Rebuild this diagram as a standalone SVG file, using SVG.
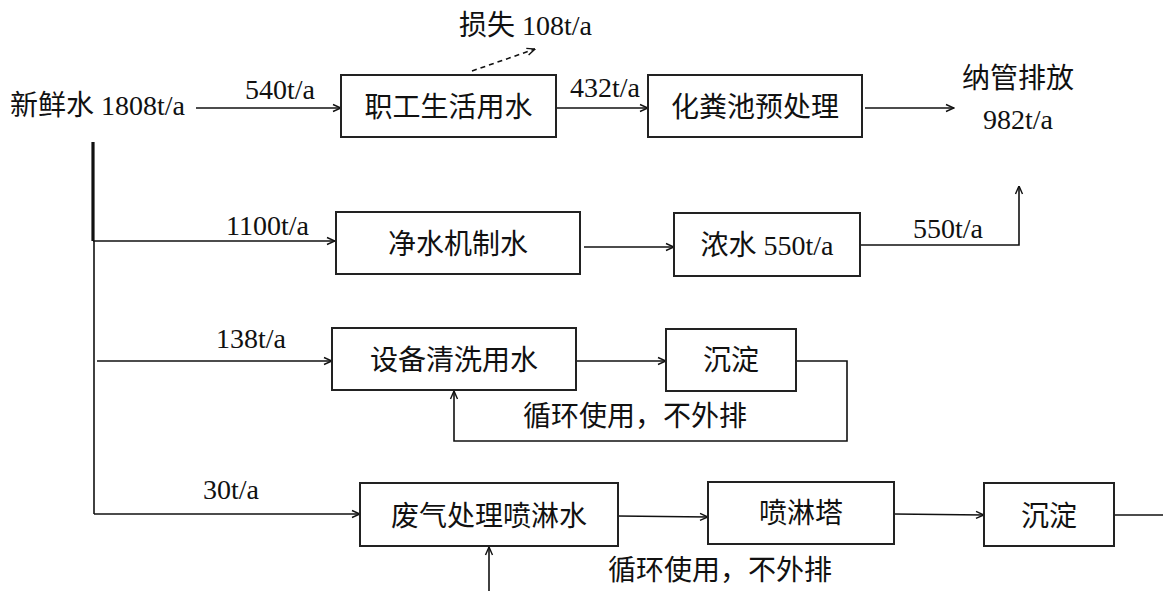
<svg xmlns="http://www.w3.org/2000/svg" width="1163" height="591" viewBox="0 0 1163 591">
<style>
text{font-family:"Liberation Serif","Noto Sans CJK SC",serif;font-size:28px;fill:#111}
.c{text-anchor:middle}
.box{fill:#fff;stroke:#222;stroke-width:2}
.ln{fill:none;stroke:#111;stroke-width:1.6}
.ar{marker-end:url(#ah)}
</style>
<defs>
<marker id="ah" markerUnits="userSpaceOnUse" markerWidth="10" markerHeight="10" viewBox="0 0 10 10" refX="9.5" refY="5" orient="auto">
<path d="M1.5,1.5 L9.5,5 L1.5,8.5" fill="none" stroke="#111" stroke-width="1.4"/>
</marker>
</defs>
<rect width="1163" height="591" fill="#fff"/>
<g id="connectors">
<line class="ln ar" x1="196" y1="108" x2="341" y2="108"/>
<line class="ln ar" x1="472" y1="71" x2="535" y2="49" stroke-dasharray="5,4"/>
<line class="ln ar" x1="556" y1="108" x2="648" y2="108"/>
<line class="ln ar" x1="865" y1="108" x2="954" y2="108"/>
<line x1="93" y1="142" x2="93" y2="241" stroke="#111" stroke-width="3.2"/>
<line class="ln" x1="94" y1="241" x2="94" y2="514"/>
<line class="ln ar" x1="93" y1="241" x2="335" y2="241"/>
<line class="ln ar" x1="584" y1="247" x2="674" y2="247"/>
<polyline class="ln ar" points="860,245 1019,245 1019,186"/>
<line class="ln ar" x1="97" y1="361" x2="332" y2="361"/>
<line class="ln ar" x1="576" y1="361" x2="666" y2="361"/>
<polyline class="ln ar" points="796,361 847,361 847,441 454,441 454,391"/>
<polyline class="ln ar" points="94,514 360,514"/>
<line class="ln ar" x1="489" y1="591" x2="489" y2="547"/>
<line class="ln ar" x1="618" y1="516" x2="708" y2="517"/>
<line class="ln ar" x1="894" y1="514" x2="984" y2="515"/>
<line class="ln" x1="1114" y1="515" x2="1163" y2="515"/>
</g>
<g id="labels">
<text x="10" y="115">新鲜水 1808t/a</text>
<text x="245" y="99">540t/a</text>
<text x="459" y="35">损失 108t/a</text>
<text x="570" y="97">432t/a</text>
<text class="c" x="1018" y="88">纳管排放</text>
<text class="c" x="1018" y="129">982t/a</text>
<text x="226" y="235">1100t/a</text>
<text x="913" y="238">550t/a</text>
<text x="216" y="348">138t/a</text>
<text x="523" y="426">循环使用，不外排</text>
<text x="203" y="499">30t/a</text>
<text x="608" y="580">循环使用，不外排</text>
</g>
<g id="n1"><rect class="box" x="341" y="75" width="215" height="62"/><text class="c" x="448.5" y="117">职工生活用水</text></g>
<g id="n2"><rect class="box" x="648" y="75" width="214" height="62"/><text class="c" x="755" y="117">化粪池预处理</text></g>
<g id="n3"><rect class="box" x="336" y="212" width="244" height="62"/><text class="c" x="458" y="254">净水机制水</text></g>
<g id="n4"><rect class="box" x="674" y="213" width="186" height="63"/><text class="c" x="767" y="255">浓水 550t/a</text></g>
<g id="n5"><rect class="box" x="332" y="328" width="244" height="62"/><text class="c" x="454" y="370">设备清洗用水</text></g>
<g id="n6"><rect class="box" x="666" y="329" width="130" height="62"/><text class="c" x="731" y="370">沉淀</text></g>
<g id="n7"><rect class="box" x="360" y="483" width="258" height="63"/><text class="c" x="489" y="526">废气处理喷淋水</text></g>
<g id="n8"><rect class="box" x="708" y="482" width="186" height="62"/><text class="c" x="801" y="523">喷淋塔</text></g>
<g id="n9"><rect class="box" x="984" y="483" width="130" height="63"/><text class="c" x="1049" y="526">沉淀</text></g>
</svg>
